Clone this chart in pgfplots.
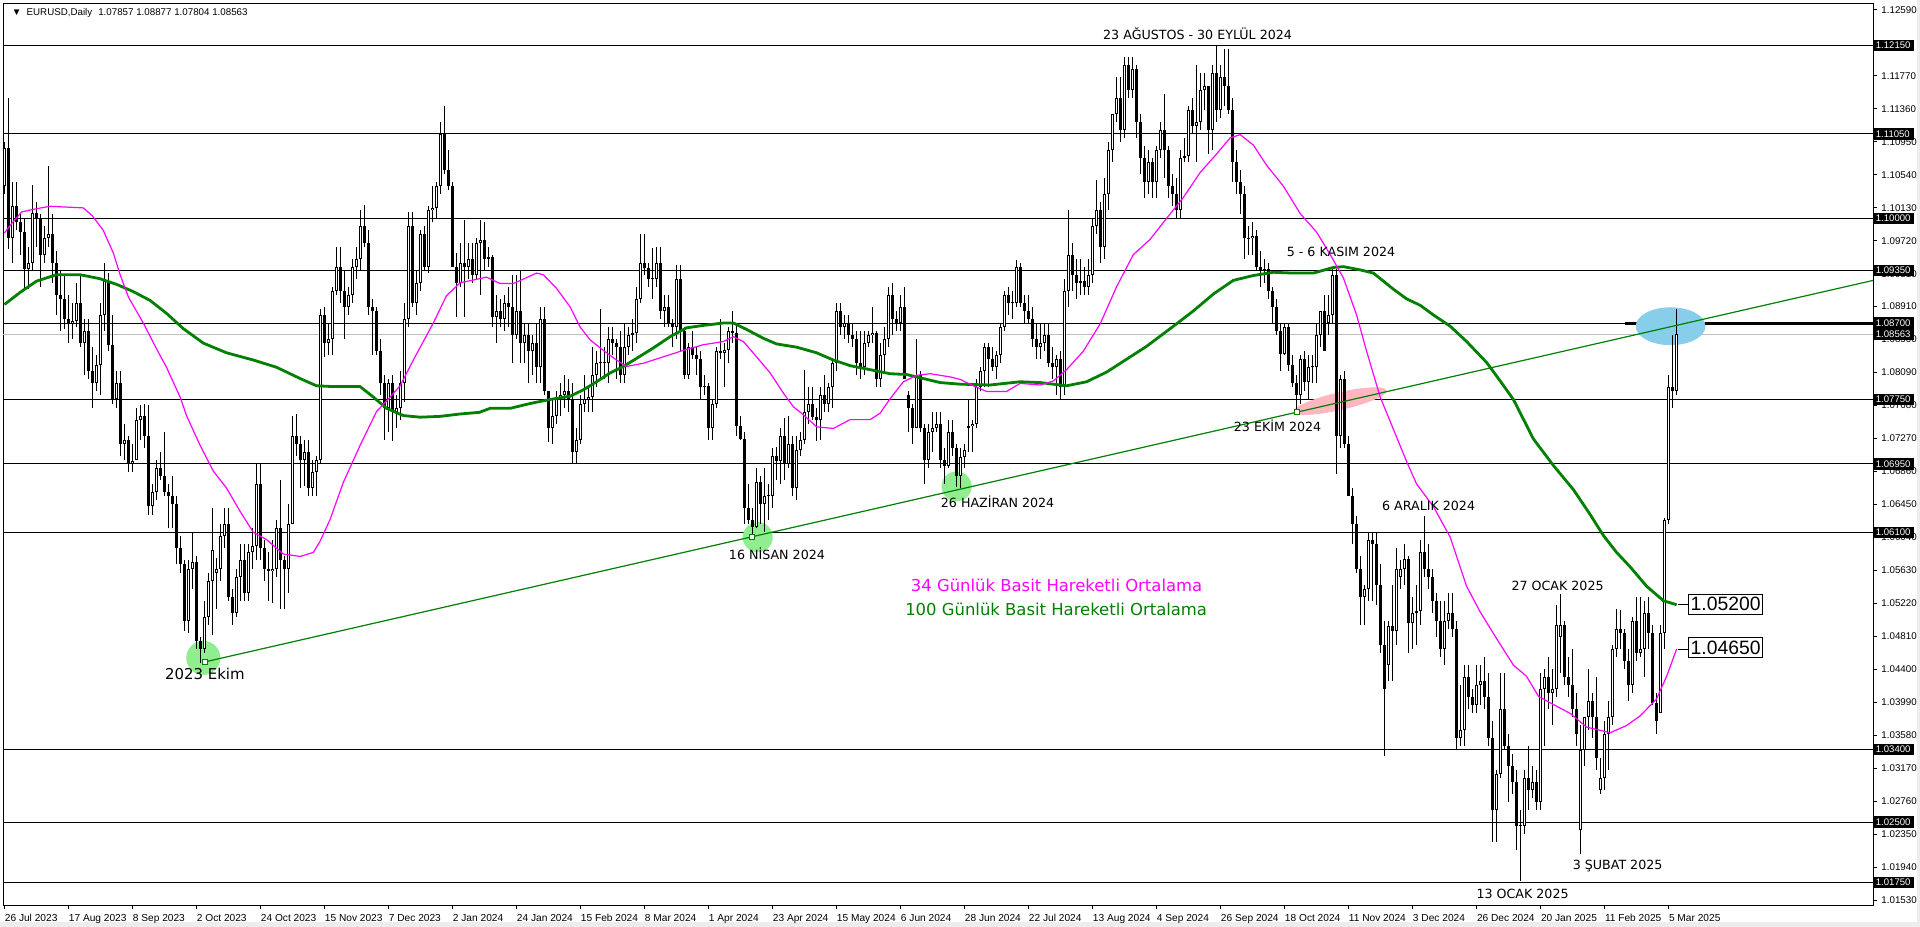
\documentclass[border=0pt]{standalone}
\usepackage{pgfplots}
\pgfplotsset{compat=1.18}
\usepackage{pgfplotstable}
\usepackage{fontspec}
\setmainfont{Liberation Sans}
\newfontfamily\dejavu{DejaVu Sans}
\definecolor{maMag}{RGB}{255,0,255}
\definecolor{maGreen}{RGB}{0,128,0}
\definecolor{ltGreen}{RGB}{144,238,144}
\definecolor{ltPink}{RGB}{255,182,193}
\definecolor{skyBlue}{RGB}{135,206,235}
\definecolor{silverLine}{RGB}{192,192,192}

\pgfplotstableread{
i o h l c
0 1.1040 1.1095 1.1030 1.1088
1 1.1088 1.1149 1.0962 1.0976
2 1.0976 1.1045 1.0945 1.1015
3 1.1015 1.1045 1.0985 1.0995
4 1.0995 1.1005 1.0955 1.0983
5 1.0983 1.1000 1.0912 1.0937
6 1.0937 1.0965 1.0912 1.0945
7 1.0945 1.1042 1.0935 1.1007
8 1.1007 1.1020 1.0965 1.1000
9 1.1000 1.1005 1.0915 1.0955
10 1.0955 1.0990 1.0945 1.0975
11 1.0975 1.1065 1.0965 1.0980
12 1.0980 1.1005 1.0920 1.0945
13 1.0945 1.0960 1.0880 1.0905
14 1.0905 1.0935 1.0860 1.0900
15 1.0900 1.0930 1.0863 1.0875
16 1.0875 1.0905 1.0845 1.0870
17 1.0870 1.0895 1.0850 1.0873
18 1.0873 1.0920 1.0865 1.0895
19 1.0895 1.0930 1.0840 1.0845
20 1.0845 1.0875 1.0805 1.0860
21 1.0860 1.0875 1.0800 1.0810
22 1.0810 1.0840 1.0765 1.0795
23 1.0795 1.0830 1.0785 1.0818
24 1.0818 1.0895 1.0780 1.0880
25 1.0880 1.0945 1.0860 1.0922
26 1.0922 1.0932 1.0835 1.0843
27 1.0843 1.0880 1.0770 1.0775
28 1.0775 1.0810 1.0765 1.0795
29 1.0795 1.0810 1.0705 1.0720
30 1.0720 1.0745 1.0700 1.0725
31 1.0725 1.0730 1.0685 1.0695
32 1.0695 1.0720 1.0685 1.0698
33 1.0700 1.0765 1.0700 1.0750
34 1.0750 1.0768 1.0725 1.0755
35 1.0755 1.0770 1.0715 1.0730
36 1.0730 1.0768 1.0632 1.0643
37 1.0643 1.0670 1.0632 1.0660
38 1.0660 1.0700 1.0650 1.0690
39 1.0690 1.0710 1.0675 1.0680
40 1.0680 1.0735 1.0655 1.0660
41 1.0660 1.0670 1.0615 1.0655
42 1.0655 1.0680 1.0615 1.0645
43 1.0645 1.0655 1.0570 1.0590
44 1.0590 1.0605 1.0560 1.0570
45 1.0570 1.0575 1.0488 1.0500
46 1.0500 1.0575 1.0485 1.0565
47 1.0565 1.0610 1.0540 1.0573
48 1.0573 1.0580 1.0465 1.0475
49 1.0475 1.0480 1.0448 1.0465
50 1.0465 1.0525 1.0460 1.0505
51 1.0505 1.0560 1.0495 1.0550
52 1.0550 1.0640 1.0482 1.0588
53 1.0560 1.0578 1.0515 1.0565
54 1.0565 1.0620 1.0550 1.0605
55 1.0605 1.0640 1.0590 1.0620
56 1.0620 1.0640 1.0525 1.0530
57 1.0530 1.0540 1.0495 1.0510
58 1.0510 1.0565 1.0505 1.0555
59 1.0555 1.0595 1.0525 1.0575
60 1.0575 1.0595 1.0525 1.0535
61 1.0535 1.0595 1.0525 1.0585
62 1.0585 1.0615 1.0565 1.0593
63 1.0593 1.0695 1.0575 1.0670
64 1.0670 1.0695 1.0575 1.0590
65 1.0590 1.0600 1.0550 1.0565
66 1.0565 1.0585 1.0525 1.0562
67 1.0562 1.0600 1.0522 1.0565
68 1.0565 1.0625 1.0555 1.0615
69 1.0615 1.0675 1.0515 1.0575
70 1.0575 1.0580 1.0515 1.0565
71 1.0565 1.0645 1.0535 1.0620
72 1.0620 1.0755 1.0620 1.0730
73 1.0730 1.0757 1.0705 1.0720
74 1.0720 1.0730 1.0665 1.0700
75 1.0700 1.0725 1.0668 1.0710
76 1.0710 1.0725 1.0655 1.0665
77 1.0665 1.0700 1.0655 1.0685
78 1.0685 1.0705 1.0655 1.0700
79 1.0700 1.0887 1.0695 1.0880
80 1.0880 1.0890 1.0828 1.0845
81 1.0845 1.0870 1.0830 1.0850
82 1.0850 1.0915 1.0830 1.0910
83 1.0910 1.0965 1.0905 1.0940
84 1.0940 1.0965 1.0895 1.0910
85 1.0910 1.0935 1.0850 1.0890
86 1.0890 1.0915 1.0880 1.0905
87 1.0905 1.0950 1.0895 1.0940
88 1.0940 1.0965 1.0925 1.0950
89 1.0950 1.1010 1.0935 1.0990
90 1.0990 1.1017 1.0965 1.0970
91 1.0970 1.0985 1.0880 1.0890
92 1.0890 1.0900 1.0830 1.0885
93 1.0885 1.0890 1.0830 1.0835
94 1.0835 1.0850 1.0780 1.0795
95 1.0795 1.0805 1.0725 1.0765
96 1.0765 1.0800 1.0735 1.0795
97 1.0795 1.0805 1.0723 1.0760
98 1.0760 1.0780 1.0740 1.0765
99 1.0765 1.0810 1.0750 1.0795
100 1.0795 1.0895 1.0772 1.0875
101 1.0875 1.1008 1.0865 1.0990
102 1.0990 1.1008 1.0890 1.0895
103 1.0895 1.0935 1.0880 1.0920
104 1.0920 1.0985 1.0910 1.0980
105 1.0980 1.0990 1.0935 1.0940
106 1.0940 1.1015 1.0932 1.1010
107 1.1010 1.1040 1.0995 1.1013
108 1.1013 1.1045 1.1000 1.1040
109 1.1040 1.1120 1.1030 1.1105
110 1.1105 1.1139 1.1055 1.1060
111 1.1060 1.1085 1.1035 1.1040
112 1.1040 1.1045 1.0940 1.0940
113 1.0940 1.0957 1.0877 1.0920
114 1.0920 1.0970 1.0915 1.0945
115 1.0945 1.0998 1.0877 1.0940
116 1.0940 1.0970 1.0925 1.0950
117 1.0950 1.0970 1.0920 1.0930
118 1.0930 1.0975 1.0925 1.0970
119 1.0970 1.0998 1.0905 1.0973
120 1.0973 1.0995 1.0935 1.0950
121 1.0950 1.0965 1.0940 1.0952
122 1.0952 1.0955 1.0865 1.0878
123 1.0878 1.0905 1.0845 1.0885
124 1.0885 1.0900 1.0865 1.0875
125 1.0875 1.0905 1.0860 1.0895
126 1.0895 1.0915 1.0865 1.0890
127 1.0890 1.0930 1.0820 1.0855
128 1.0855 1.0930 1.0850 1.0885
129 1.0885 1.0935 1.0820 1.0845
130 1.0845 1.0870 1.0820 1.0855
131 1.0855 1.0870 1.0795 1.0835
132 1.0835 1.0855 1.0805 1.0845
133 1.0845 1.0870 1.0795 1.0815
134 1.0815 1.0890 1.0795 1.0875
135 1.0875 1.0890 1.0780 1.0785
136 1.0785 1.0785 1.0722 1.0740
137 1.0740 1.0775 1.0720 1.0755
138 1.0755 1.0785 1.0745 1.0775
139 1.0775 1.0795 1.0755 1.0780
140 1.0780 1.0805 1.0765 1.0785
141 1.0785 1.0800 1.0760 1.0775
142 1.0775 1.0795 1.0695 1.0710
143 1.0710 1.0740 1.0695 1.0725
144 1.0725 1.0780 1.0720 1.0770
145 1.0770 1.0805 1.0760 1.0775
146 1.0775 1.0790 1.0760 1.0778
147 1.0778 1.0840 1.0760 1.0805
148 1.0805 1.0835 1.0790 1.0820
149 1.0820 1.0888 1.0800 1.0822
150 1.0822 1.0840 1.0800 1.0820
151 1.0820 1.0865 1.0795 1.0850
152 1.0850 1.0865 1.0830 1.0845
153 1.0845 1.0850 1.0800 1.0840
154 1.0840 1.0860 1.0795 1.0805
155 1.0805 1.0870 1.0795 1.0840
156 1.0840 1.0865 1.0830 1.0855
157 1.0855 1.0875 1.0835 1.0857
158 1.0857 1.0915 1.0845 1.0900
159 1.0900 1.0980 1.0895 1.0945
160 1.0945 1.0980 1.0930 1.0938
161 1.0938 1.0945 1.0915 1.0925
162 1.0925 1.0963 1.0900 1.0925
163 1.0925 1.0965 1.0915 1.0945
164 1.0945 1.0965 1.0875 1.0885
165 1.0885 1.0905 1.0865 1.0890
166 1.0890 1.0905 1.0865 1.0870
167 1.0870 1.0875 1.0840 1.0865
168 1.0865 1.0942 1.0850 1.0925
169 1.0925 1.0942 1.0835 1.0860
170 1.0860 1.0865 1.0800 1.0805
171 1.0805 1.0845 1.0800 1.0840
172 1.0840 1.0860 1.0825 1.0830
173 1.0830 1.0840 1.0805 1.0825
174 1.0825 1.0835 1.0775 1.0790
175 1.0790 1.0805 1.0780 1.0792
176 1.0792 1.0795 1.0725 1.0740
177 1.0740 1.0775 1.0725 1.0770
178 1.0770 1.0840 1.0765 1.0835
179 1.0835 1.0875 1.0825 1.0833
180 1.0833 1.0845 1.0790 1.0837
181 1.0837 1.0865 1.0820 1.0860
182 1.0860 1.0885 1.0845 1.0857
183 1.0857 1.0870 1.0730 1.0742
184 1.0742 1.0755 1.0725 1.0726
185 1.0726 1.0735 1.0620 1.0640
186 1.0640 1.0670 1.0620 1.0625
187 1.0625 1.0640 1.0601 1.0617
188 1.0617 1.0690 1.0615 1.0672
189 1.0672 1.0680 1.0620 1.0645
190 1.0645 1.0690 1.0610 1.0655
191 1.0655 1.0670 1.0625 1.0655
192 1.0655 1.0715 1.0640 1.0705
193 1.0705 1.0716 1.0675 1.0698
194 1.0698 1.0740 1.0670 1.0730
195 1.0730 1.0752 1.0675 1.0695
196 1.0695 1.0755 1.0690 1.0720
197 1.0720 1.0730 1.0655 1.0665
198 1.0665 1.0730 1.0650 1.0712
199 1.0712 1.0735 1.0705 1.0725
200 1.0725 1.0812 1.0720 1.0760
201 1.0760 1.0790 1.0745 1.0770
202 1.0770 1.0790 1.0750 1.0753
203 1.0753 1.0765 1.0723 1.0750
204 1.0750 1.0790 1.0725 1.0780
205 1.0780 1.0805 1.0760 1.0770
206 1.0770 1.0795 1.0760 1.0790
207 1.0790 1.0825 1.0765 1.0820
208 1.0820 1.0895 1.0810 1.0885
209 1.0885 1.0895 1.0855 1.0865
210 1.0865 1.0880 1.0850 1.0870
211 1.0870 1.0880 1.0845 1.0855
212 1.0855 1.0870 1.0840 1.0850
213 1.0850 1.0860 1.0805 1.0820
214 1.0820 1.0860 1.0800 1.0815
215 1.0815 1.0860 1.0805 1.0845
216 1.0845 1.0860 1.0840 1.0855
217 1.0855 1.0890 1.0845 1.0858
218 1.0858 1.0860 1.0790 1.0800
219 1.0800 1.0845 1.0790 1.0830
220 1.0830 1.0865 1.0810 1.0850
221 1.0850 1.0915 1.0840 1.0905
222 1.0905 1.0920 1.0855 1.0875
223 1.0875 1.0885 1.0860 1.0870
224 1.0870 1.0905 1.0860 1.0890
225 1.0890 1.0915 1.0800 1.0800
226 1.0780 1.0785 1.0735 1.0765
227 1.0765 1.0770 1.0720 1.0740
228 1.0740 1.0850 1.0740 1.0805
229 1.0805 1.0810 1.0735 1.0740
230 1.0740 1.0745 1.0670 1.0700
231 1.0700 1.0745 1.0690 1.0735
232 1.0735 1.0760 1.0710 1.0740
233 1.0740 1.0760 1.0735 1.0745
234 1.0745 1.0760 1.0690 1.0700
235 1.0700 1.0715 1.0670 1.0692
236 1.0692 1.0750 1.0690 1.0735
237 1.0735 1.0750 1.0705 1.0715
238 1.0715 1.0720 1.0666 1.0680
239 1.0680 1.0715 1.0665 1.0703
240 1.0703 1.0720 1.0690 1.0712
241 1.0740 1.0776 1.0710 1.0742
242 1.0742 1.0750 1.0710 1.0745
243 1.0745 1.0800 1.0740 1.0790
244 1.0790 1.0815 1.0785 1.0810
245 1.0810 1.0845 1.0790 1.0840
246 1.0840 1.0845 1.0790 1.0825
247 1.0825 1.0840 1.0810 1.0815
248 1.0815 1.0835 1.0800 1.0830
249 1.0830 1.0870 1.0820 1.0865
250 1.0865 1.0910 1.0860 1.0905
251 1.0905 1.0915 1.0880 1.0895
252 1.0895 1.0910 1.0875 1.0895
253 1.0895 1.0948 1.0890 1.0940
254 1.0940 1.0945 1.0890 1.0895
255 1.0895 1.0905 1.0870 1.0885
256 1.0885 1.0905 1.0870 1.0875
257 1.0875 1.0890 1.0840 1.0850
258 1.0850 1.0870 1.0825 1.0840
259 1.0840 1.0870 1.0825 1.0845
260 1.0845 1.0870 1.0835 1.0855
261 1.0855 1.0870 1.0815 1.0820
262 1.0820 1.0840 1.0800 1.0815
263 1.0815 1.0830 1.0780 1.0825
264 1.0825 1.0835 1.0775 1.0790
265 1.0790 1.0925 1.0780 1.0910
266 1.0910 1.1010 1.0890 1.0955
267 1.0955 1.0970 1.0910 1.0930
268 1.0930 1.0950 1.0900 1.0920
269 1.0920 1.0950 1.0905 1.0922
270 1.0922 1.0940 1.0905 1.0915
271 1.0915 1.0950 1.0905 1.0930
272 1.0930 1.1000 1.0920 1.0990
273 1.0990 1.1048 1.0980 1.1010
274 1.1010 1.1020 1.0945 1.0965
275 1.0965 1.1050 1.0950 1.1030
276 1.1030 1.1095 1.1010 1.1085
277 1.1085 1.1130 1.1070 1.1130
278 1.1130 1.1175 1.1120 1.1150
279 1.1150 1.1175 1.1095 1.1110
280 1.1110 1.1200 1.1100 1.1190
281 1.1190 1.1200 1.1150 1.1160
282 1.1160 1.1200 1.1150 1.1185
283 1.1185 1.1190 1.1100 1.1120
284 1.1120 1.1130 1.1055 1.1075
285 1.1075 1.1090 1.1025 1.1045
286 1.1045 1.1085 1.1030 1.1070
287 1.1070 1.1075 1.1025 1.1045
288 1.1045 1.1090 1.1025 1.1085
289 1.1085 1.1120 1.1075 1.1110
290 1.1110 1.1155 1.1050 1.1085
291 1.1085 1.1090 1.1025 1.1040
292 1.1040 1.1055 1.1015 1.1030
293 1.1030 1.1050 1.1000 1.1010
294 1.1010 1.1085 1.1000 1.1075
295 1.1075 1.1100 1.1070 1.1077
296 1.1077 1.1140 1.1070 1.1135
297 1.1135 1.1150 1.1105 1.1115
298 1.1115 1.1190 1.1070 1.1120
299 1.1120 1.1180 1.1110 1.1160
300 1.1160 1.1180 1.1135 1.1165
301 1.1165 1.1165 1.1080 1.1110
302 1.1110 1.1190 1.1085 1.1180
303 1.1180 1.1214 1.1120 1.1135
304 1.1135 1.1190 1.1125 1.1175
305 1.1175 1.1210 1.1140 1.1165
306 1.1165 1.1210 1.1130 1.1135
307 1.1135 1.1150 1.1045 1.1070
308 1.1070 1.1085 1.1030 1.1045
309 1.1045 1.1060 1.1005 1.1030
310 1.1030 1.1040 1.0950 1.0975
311 1.0975 1.0990 1.0955 1.0975
312 1.0975 1.0995 1.0955 1.0978
313 1.0978 1.0985 1.0935 1.0940
314 1.0940 1.0960 1.0915 1.0935
315 1.0935 1.0950 1.0920 1.0937
316 1.0937 1.0945 1.0900 1.0910
317 1.0910 1.0915 1.0870 1.0890
318 1.0890 1.0900 1.0855 1.0860
319 1.0860 1.0870 1.0810 1.0832
320 1.0832 1.0870 1.0830 1.0865
321 1.0865 1.0870 1.0810 1.0818
322 1.0818 1.0830 1.0790 1.0795
323 1.0795 1.0805 1.0761 1.0780
324 1.0780 1.0830 1.0770 1.0825
325 1.0825 1.0835 1.0785 1.0797
326 1.0797 1.0830 1.0775 1.0815
327 1.0815 1.0830 1.0795 1.0815
328 1.0815 1.0870 1.0795 1.0855
329 1.0855 1.0885 1.0840 1.0885
330 1.0885 1.0905 1.0835 1.0835
331 1.0870 1.0905 1.0855 1.0880
332 1.0880 1.0937 1.0870 1.0930
333 1.0930 1.0937 1.0682 1.0730
334 1.0730 1.0805 1.0715 1.0800
335 1.0800 1.0810 1.0715 1.0720
336 1.0720 1.0730 1.0655 1.0655
337 1.0655 1.0665 1.0595 1.0620
338 1.0620 1.0630 1.0560 1.0565
339 1.0565 1.0580 1.0495 1.0530
340 1.0530 1.0545 1.0495 1.0540
341 1.0540 1.0610 1.0525 1.0600
342 1.0600 1.0610 1.0525 1.0595
343 1.0595 1.0610 1.0520 1.0545
344 1.0545 1.0570 1.0460 1.0470
345 1.0470 1.0500 1.0332 1.0415
346 1.0445 1.0500 1.0425 1.0493
347 1.0493 1.0545 1.0425 1.0488
348 1.0488 1.0590 1.0470 1.0565
349 1.0555 1.0575 1.0540 1.0564
350 1.0564 1.0595 1.0545 1.0577
351 1.0577 1.0580 1.0460 1.0497
352 1.0497 1.0530 1.0465 1.0510
353 1.0510 1.0545 1.0470 1.0512
354 1.0512 1.0600 1.0495 1.0585
355 1.0585 1.0630 1.0555 1.0565
356 1.0565 1.0595 1.0540 1.0555
357 1.0555 1.0565 1.0510 1.0525
358 1.0525 1.0535 1.0480 1.0500
359 1.0500 1.0525 1.0455 1.0465
360 1.0465 1.0525 1.0445 1.0500
361 1.0500 1.0535 1.0490 1.0510
362 1.0510 1.0535 1.0480 1.0490
363 1.0490 1.0500 1.0340 1.0355
364 1.0355 1.0420 1.0345 1.0365
365 1.0365 1.0445 1.0345 1.0430
366 1.0430 1.0445 1.0390 1.0405
367 1.0405 1.0415 1.0385 1.0395
368 1.0395 1.0445 1.0385 1.0420
369 1.0420 1.0445 1.0395 1.0425
370 1.0425 1.0455 1.0390 1.0405
371 1.0405 1.0435 1.0345 1.0355
372 1.0355 1.0375 1.0225 1.0265
373 1.0265 1.0315 1.0225 1.0310
374 1.0310 1.0435 1.0305 1.0390
375 1.0390 1.0435 1.0340 1.0345
376 1.0345 1.0360 1.0275 1.0320
377 1.0320 1.0335 1.0285 1.0300
378 1.0300 1.0315 1.0215 1.0245
379 1.0245 1.0265 1.0177 1.0245
380 1.0245 1.0315 1.0235 1.0305
381 1.0305 1.0345 1.0265 1.0290
382 1.0290 1.0320 1.0280 1.0300
383 1.0300 1.0315 1.0265 1.0275
384 1.0275 1.0435 1.0265 1.0415
385 1.0415 1.0440 1.0345 1.0430
386 1.0430 1.0455 1.0390 1.0410
387 1.0410 1.0440 1.0370 1.0415
388 1.0415 1.0520 1.0405 1.0495
389 1.0480 1.0533 1.0435 1.0495
390 1.0495 1.0500 1.0420 1.0430
391 1.0430 1.0455 1.0405 1.0420
392 1.0420 1.0465 1.0380 1.0390
393 1.0390 1.0410 1.0345 1.0360
394 1.0240 1.0370 1.0210 1.0340
395 1.0340 1.0380 1.0320 1.0380
396 1.0380 1.0440 1.0365 1.0400
397 1.0400 1.0410 1.0355 1.0380
398 1.0380 1.0430 1.0315 1.0330
399 1.0290 1.0330 1.0285 1.0305
400 1.0305 1.0375 1.0290 1.0360
401 1.0360 1.0400 1.0315 1.0380
402 1.0380 1.0470 1.0370 1.0465
403 1.0465 1.0515 1.0455 1.0490
404 1.0490 1.0513 1.0465 1.0485
405 1.0485 1.0490 1.0440 1.0450
406 1.0450 1.0465 1.0400 1.0420
407 1.0420 1.0505 1.0410 1.0500
408 1.0500 1.0530 1.0450 1.0460
409 1.0460 1.0530 1.0455 1.0465
410 1.0465 1.0525 1.0430 1.0510
411 1.0510 1.0530 1.0465 1.0485
412 1.0485 1.0495 1.0395 1.0398
413 1.0398 1.0410 1.0360 1.0375
414 1.0385 1.0495 1.0385 1.0485
415 1.0485 1.0628 1.0465 1.0625
416 1.0625 1.0805 1.0620 1.0790
417 1.0790 1.0855 1.0765 1.0785
418 1.07857 1.08877 1.07804 1.08563
}\candles

\tikzset{hl/.style={anchor=west, fill=black, text=white, inner xsep=1.25bp, inner ysep=0pt,
  minimum height=5.7bp, text width=18bp, align=left, font=\fontsize{4.8}{5}\selectfont}}

\begin{document}
\begin{tikzpicture}
\useasboundingbox (-1.5bp,-11bp) rectangle (958.5bp,452.5bp);
\fill[white] (-1.5bp,-11bp) rectangle (958.5bp,452.5bp);
\fill[black!7] (-1.5bp,-11bp) rectangle (958.5bp,-8.5bp);
\fill[black!7] (957bp,-11bp) rectangle (958.5bp,452.5bp);
\begin{axis}[
  at={(0bp,0bp)}, anchor=south west, scale only axis,
  width=935bp, height=450.5bp,
  xmin=-0.375, xmax=467.1, ymin=1.01470, ymax=1.12663,
  clip mode=individual,
  axis line style={black, line width=0.5bp},
  tick align=outside, major tick length=2bp,
  tick style={black, line width=0.5bp},
  xtick pos=bottom, ytick pos=right, yticklabel pos=right,
  scaled y ticks=false,
  xtick={0,16,...,416},
  xticklabels={26 Jul 2023,17 Aug 2023,8 Sep 2023,2 Oct 2023,24 Oct 2023,15 Nov 2023,7 Dec 2023,2 Jan 2024,24 Jan 2024,15 Feb 2024,8 Mar 2024,1 Apr 2024,23 Apr 2024,15 May 2024,6 Jun 2024,28 Jun 2024,22 Jul 2024,13 Aug 2024,4 Sep 2024,26 Sep 2024,18 Oct 2024,11 Nov 2024,3 Dec 2024,26 Dec 2024,20 Jan 2025,11 Feb 2025,5 Mar 2025},
  ytick={1.12590,1.11770,1.11360,1.10950,1.10540,1.10130,1.09720,1.09310,1.08910,1.08500,1.08090,1.07680,1.07270,1.06860,1.06450,1.06040,1.05630,1.05220,1.04810,1.04400,1.03990,1.03580,1.03170,1.02760,1.02350,1.01940,1.01530},
  yticklabels={1.12590,1.11770,1.11360,1.10950,1.10540,1.10130,1.09720,1.09310,1.08910,1.08500,1.08090,1.07680,1.07270,1.06860,1.06450,1.06040,1.05630,1.05220,1.04810,1.04400,1.03990,1.03580,1.03170,1.02760,1.02350,1.01940,1.01530},
  xticklabel style={anchor=north west, inner sep=0pt, font=\fontsize{5.1}{6}\selectfont},
  yticklabel style={anchor=west, inner sep=0pt, font=\fontsize{4.9}{5}\selectfont},
  xticklabel shift=2.3bp, yticklabel shift=2bp,
]
% horizontal levels
\addplot[silverLine, line width=0.5bp, forget plot] coordinates {(-1,1.08563) (470,1.08563)};
\pgfplotsinvokeforeach{1.1215,1.1105,1.1000,1.0935,1.0870,1.0775,1.0695,1.0610,1.0340,1.0250,1.0175}{
  \addplot[black, line width=0.5bp, forget plot] coordinates {(-1,#1) (470,#1)};
}
\addplot[black, line width=1.5bp, forget plot] coordinates {(405,1.0870) (470,1.0870)};
% highlight shapes
\addplot[only marks, mark=*, mark size=8.3bp, color=ltGreen, forget plot] coordinates {(49.7,1.0454)};
\addplot[only marks, mark=*, mark size=7.3bp, color=ltGreen, forget plot] coordinates {(188.3,1.0604) (238,1.0667)};
\addplot[only marks, mark=*, mark size=4.2bp, color=ltPink, mark options={rotate=13, xscale=5.6}, forget plot] coordinates {(333.9,1.0773)};
\addplot[only marks, mark=*, mark size=9.25bp, color=skyBlue, mark options={xscale=1.86}, forget plot] coordinates {(416.5,1.0866)};
% candles: wicks
\addplot[draw=none, mark=none, forget plot,
  error bars/.cd, y dir=plus, y explicit, error mark=none,
  error bar style={draw=black, solid, line width=0.5bp}]
  table[x=i, y=l, y error expr=\thisrow{h}-\thisrow{l}] {\candles};
% bear bodies
\addplot[draw=none, mark=none, forget plot,
  restrict expr to domain={\thisrow{o}-\thisrow{c}}{0.00001:1},
  error bars/.cd, y dir=plus, y explicit, error mark=none,
  error bar style={draw=black, solid, line width=1.6bp}]
  table[x=i, y=c, y error expr={max(\thisrow{o}-\thisrow{c},0.00012)}] {\candles};
% bull bodies outer
\addplot[draw=none, mark=none, forget plot,
  restrict expr to domain={\thisrow{c}-\thisrow{o}}{-0.00001:1},
  error bars/.cd, y dir=plus, y explicit, error mark=none,
  error bar style={draw=black, solid, line width=1.6bp}]
  table[x=i, y=o, y error expr={max(\thisrow{c}-\thisrow{o},0.00012)}] {\candles};
% bull bodies inner
\addplot[draw=none, mark=none, forget plot,
  restrict expr to domain={\thisrow{c}-\thisrow{o}}{0.0003:1},
  error bars/.cd, y dir=plus, y explicit, error mark=none,
  error bar style={draw=white, solid, line width=0.5bp}]
  table[x=i, y expr=\thisrow{o}+0.000124, y error expr={\thisrow{c}-\thisrow{o}-0.000248}] {\candles};
% 100 SMA
\addplot[maGreen, line width=1.4bp, forget plot] coordinates {
(0,1.0893) (3.9,1.0908) (8,1.0922) (13,1.0930) (18.9,1.0930) (23.9,1.0925) (28,1.0918) (32.2,1.0909) (36.4,1.0898) (40.5,1.0882) (44.7,1.0863) (49.7,1.0845) (55.5,1.0833) (62.2,1.0824) (68,1.0815) (73.9,1.0801) (78,1.0792) (82.2,1.0791) (88.9,1.0791) (92.2,1.0778) (95.5,1.0764) (99.7,1.0755) (103.9,1.0753) (108.9,1.0754) (113.9,1.0757) (118.7,1.0759) (121.4,1.0764) (126.4,1.0764) (131.4,1.0770) (136.4,1.0775) (141.4,1.0779) (144.7,1.0787) (148,1.0797) (151.4,1.0808) (154.7,1.0816) (158,1.0826) (162.2,1.0839) (166.4,1.0853) (170.5,1.0864) (174.7,1.0867) (179.7,1.0870) (182.2,1.0870) (185.5,1.0862) (189.7,1.0851) (193,1.0844) (198,1.0840) (203,1.0833) (207.2,1.0824) (211.4,1.0817) (216.4,1.0812) (221.4,1.0807) (225.5,1.0806) (229.7,1.0801) (233.9,1.0796) (238.9,1.0794) (246.4,1.0793) (253.9,1.0797) (258.9,1.0796) (265.5,1.0792) (270.5,1.0797) (275.5,1.0809) (280.5,1.0825) (285.5,1.0841) (292.2,1.0866) (297.2,1.0885) (302.2,1.0906) (307.2,1.0923) (312.2,1.0929) (317.2,1.0933) (322.2,1.0932) (327.2,1.0932) (332.2,1.0939) (334.7,1.0940) (338.9,1.0936) (342.2,1.0932) (347.2,1.0912) (350.5,1.0900) (353.9,1.0892) (357.2,1.0880) (361.4,1.0866) (365.5,1.0847) (370.5,1.0821) (373.9,1.0798) (377.2,1.0775) (382.2,1.0726) (387.2,1.0693) (392.2,1.0663) (396.4,1.0632) (399.7,1.0606) (403,1.0585) (406.4,1.0567) (410.5,1.0543) (414.7,1.0525) (418,1.0520)};
% 34 SMA
\addplot[maMag, line width=0.6bp, forget plot] coordinates {
(0,1.0982) (2.2,1.0996) (4.3,1.1008) (8,1.1012) (11.4,1.1015) (15.5,1.1014) (19.7,1.1013) (22,1.1003) (24.7,1.0985) (27.2,1.0957) (28.9,1.0930) (31,1.0902) (34.7,1.0870) (38,1.0838) (40.5,1.0815) (43.9,1.0778) (45.5,1.0755) (48.9,1.0718) (52.2,1.0686) (55.5,1.0665) (58.9,1.0636) (62.2,1.0610) (65.5,1.0601) (69.7,1.0583) (73.9,1.0580) (77.2,1.0585) (78.9,1.0599) (81.4,1.0626) (84.7,1.0672) (88.9,1.0718) (93,1.0760) (95.5,1.0773) (98.9,1.0792) (102.2,1.0824) (107.2,1.0870) (110.5,1.0904) (113.9,1.0920) (118.7,1.0925) (120.5,1.0927) (123.9,1.0919) (127.2,1.0919) (133,1.0932) (134.7,1.0930) (138,1.0913) (141.4,1.0890) (143.9,1.0865) (146.4,1.0849) (149.7,1.0836) (153,1.0824) (155.5,1.0816) (159.7,1.0820) (164.7,1.0828) (169.7,1.0836) (174.7,1.0843) (179.7,1.0847) (182.2,1.0853) (184.7,1.0847) (188,1.0828) (191.4,1.0808) (194.7,1.0783) (197.2,1.0766) (199.7,1.0756) (203,1.0741) (207.2,1.0739) (211.4,1.0750) (216.4,1.0750) (218.9,1.0758) (221.4,1.0776) (224.7,1.0797) (228,1.0805) (231.4,1.0807) (236.4,1.0803) (238.9,1.0800) (242.2,1.0792) (245.5,1.0785) (250.5,1.0785) (253.9,1.0795) (258.9,1.0793) (262.2,1.0798) (265.5,1.0812) (269.7,1.0835) (273.9,1.0869) (278,1.0915) (282.2,1.0955) (286.4,1.0974) (290.5,1.1000) (294.7,1.1026) (298.9,1.1057) (303,1.1080) (306.4,1.1100) (308.9,1.1104) (312.2,1.1091) (315.5,1.1066) (319.7,1.1040) (323.9,1.1006) (328,1.0983) (331.4,1.0955) (334.7,1.0926) (338,1.0880) (340.5,1.0835) (343.9,1.0778) (347.2,1.0738) (350.5,1.0698) (353,1.0670) (357.2,1.0642) (361.4,1.0604) (365.5,1.0543) (368.9,1.0511) (373,1.0478) (377.2,1.0445) (380.5,1.0431) (383.5,1.0406) (387.2,1.0396) (391.4,1.0385) (395.5,1.0368) (398.9,1.0364) (401.4,1.0361) (405.5,1.0370) (408.9,1.0382) (413,1.0403) (415.5,1.0431) (418,1.0465)};
% trend line
\addplot[maGreen, line width=0.6bp, forget plot] coordinates {(50.1,1.0449) (467.2,1.0923)};
\addplot[only marks, mark=square*, mark size=1.3bp, mark options={draw=maGreen, fill=white, line width=0.5bp}, forget plot] coordinates {(50.1,1.0449) (186.8,1.0604) (323.2,1.07595)};
% leader lines and value boxes
\addplot[black, line width=0.5bp, forget plot] coordinates {(418.3,1.0520) (420.9,1.0520)};
\addplot[black, line width=0.5bp, forget plot] coordinates {(418.3,1.0465) (420.9,1.0465)};
\node[draw=black, line width=0.5bp, fill=white, anchor=west, inner xsep=1bp, inner ysep=0pt, minimum height=10bp, font=\fontsize{9.7}{10}\selectfont] at (axis cs:420.9,1.05209) {1.05200};
\node[draw=black, line width=0.5bp, fill=white, anchor=west, inner xsep=1bp, inner ysep=0pt, minimum height=10bp, font=\fontsize{9.7}{10}\selectfont] at (axis cs:420.9,1.04663) {1.04650};
% annotations
\begin{scope}[every node/.style={font=\dejavu\fontsize{6.35}{7}\selectfont, inner sep=0pt}]
\node at (axis cs:298.25,1.12290) {23 AĞUSTOS - 30 EYLÜL 2024};
\node at (axis cs:334.1,1.09585) {5 - 6 KASIM 2024};
\node at (axis cs:318.25,1.07418) {23 EKİM 2024};
\node at (axis cs:248.25,1.06483) {26 HAZİRAN 2024};
\node at (axis cs:193.1,1.05827) {16 NİSAN 2024};
\node at (axis cs:356,1.06431) {6 ARALIK 2024};
\node at (axis cs:388.25,1.05435) {27 OCAK 2025};
\node at (axis cs:403.25,1.01953) {3 ŞUBAT 2025};
\node at (axis cs:379.5,1.01608) {13 OCAK 2025};
\end{scope}
\node[font=\dejavu\fontsize{7.5}{8}\selectfont, inner sep=0pt] at (axis cs:50.1,1.04346) {2023 Ekim};
\node[font=\dejavu\fontsize{8.25}{9}\selectfont, inner sep=0pt, text=maMag] at (axis cs:263.0,1.05442) {34 Günlük Basit Hareketli Ortalama};
\node[font=\dejavu\fontsize{8.25}{9}\selectfont, inner sep=0pt, text=maGreen] at (axis cs:262.9,1.05138) {100 Günlük Basit Hareketli Ortalama};
% title
\node[anchor=west, inner sep=0pt, font=\fontsize{4.9}{5}\selectfont] at (rel axis cs:0,1) [xshift=4.3bp, yshift=-4.65bp] {▼\hspace{2.5bp}EURUSD,Daily\hspace{3bp}1.07857 1.08877 1.07804 1.08563};
% right-axis highlighted levels
\node[hl] at (axis cs:467.1,1.1215) {1.12150};
\node[hl] at (axis cs:467.1,1.1105) {1.11050};
\node[hl] at (axis cs:467.1,1.1000) {1.10000};
\node[hl] at (axis cs:467.1,1.0935) {1.09350};
\node[hl] at (axis cs:467.1,1.0870) {1.08700};
\node[hl] at (axis cs:467.1,1.08563) {1.08563};
\node[hl] at (axis cs:467.1,1.0775) {1.07750};
\node[hl] at (axis cs:467.1,1.0695) {1.06950};
\node[hl] at (axis cs:467.1,1.0610) {1.06100};
\node[hl] at (axis cs:467.1,1.0340) {1.03400};
\node[hl] at (axis cs:467.1,1.0250) {1.02500};
\node[hl] at (axis cs:467.1,1.0175) {1.01750};
\end{axis}
\end{tikzpicture}
\end{document}
